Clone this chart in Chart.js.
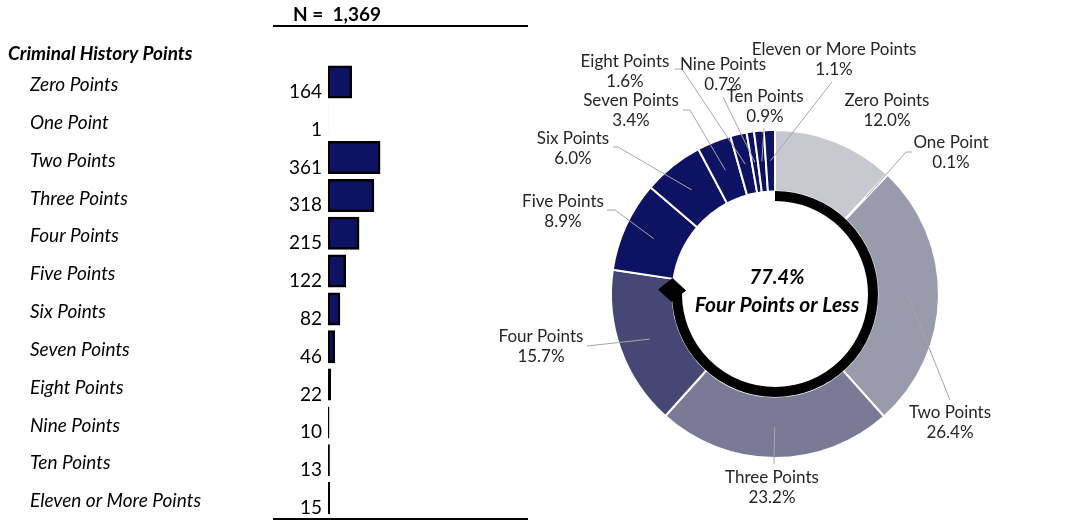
<!DOCTYPE html>
<html>
<head>
<meta charset="utf-8">
<script src="https://cdn.jsdelivr.net/npm/chart.js@4.4.0/dist/chart.umd.min.js"></script>
<style>
  html, body { margin: 0; padding: 0; background: #fff; }
  #wrap { position: relative; width: 1071px; height: 520px; overflow: hidden; }
  canvas { position: absolute; top: 0; }
  #barChart { left: 0; }
  #donutChart { left: 480px; }
</style>
</head>
<body>
<div id="wrap">
  <canvas id="barChart" width="540" height="520"></canvas>
  <canvas id="donutChart" width="591" height="520"></canvas>
</div>
<script>
// data
const categories = [
  'Zero Points', 'One Point', 'Two Points', 'Three Points', 'Four Points', 'Five Points',
  'Six Points', 'Seven Points', 'Eight Points', 'Nine Points', 'Ten Points', 'Eleven or More Points'
];
const counts = [164, 1, 361, 318, 215, 122, 82, 46, 22, 10, 13, 15];
const totalN = 1369;
const headerTitle = 'Criminal History Points';
const centerTitle = 'Four Points or Less';
const groupedCount = 5; // zero .. four points

// styles
const barColor = '#0d1263';
const sliceColors = [
  '#c8c8d1', '#9a9aad', '#9a9aad', '#7a7a97', '#474776', '#0d1263',
  '#0d1263', '#0d1263', '#0d1263', '#0d1263', '#0d1263', '#0d1263'
];

// label placement around the doughnut, relative to its centre
// d = text offset, lead = leader start (+ optional elbow)
const labelLayout = [
  { d: [112, -193] },
  { d: [176, -151], lead: [[137, -142], [131, -142]] },
  { d: [175, 119], lead: [[175, 106]] },
  { d: [-3, 184], lead: [[-1, 170]] },
  { d: [-234, 43], lead: [[-188, 52]] },
  { d: [-212, -92], lead: [[-168, -84], [-160, -84]] },
  { d: [-202, -155], lead: [[-162, -147], [-157, -147]] },
  { d: [-144, -193], lead: [[-92, -184], [-85, -184]] },
  { d: [-150, -232], lead: [[-100, -225], [-93, -225]] },
  { d: [-52, -229], lead: [[-52, -197]] },
  { d: [-10, -197], lead: [[-11, -166]] },
  { d: [59, -244], lead: [[57, -212]] }
];

Chart.defaults.font.family = 'Lato';
const pct = v => (v / totalN * 100).toFixed(1) + '%';

// counts, header and rules of the left table
const barExtras = {
  id: 'barExtras',
  afterDraw(chart) {
    const { ctx, chartArea } = chart;
    const meta = chart.getDatasetMeta(0);
    ctx.save();
    ctx.fillStyle = '#000';
    ctx.font = '19px Lato';
    ctx.textAlign = 'right';
    ctx.textBaseline = 'alphabetic';
    meta.data.forEach((bar, i) => {
      const { y, height } = bar.getProps(['y', 'height'], true);
      ctx.fillText(counts[i].toLocaleString('en-US'), chartArea.left - 6, y + height / 2);
    });

    ctx.textAlign = 'left';
    ctx.textBaseline = 'middle';
    ctx.font = 'italic bold 19px Lato';
    ctx.fillText(headerTitle, 8, 54);
    ctx.font = 'bold 19px Lato';
    ctx.fillText('N =  ' + totalN.toLocaleString('en-US'), 293, 15);

    ctx.strokeStyle = '#000';
    ctx.lineWidth = 2;
    ctx.beginPath();
    ctx.moveTo(273, 26); ctx.lineTo(528, 26);
    ctx.moveTo(273, 519); ctx.lineTo(528, 519);
    ctx.stroke();
    ctx.restore();
  }
};

new Chart(document.getElementById('barChart'), {
  type: 'bar',
  data: {
    labels: categories,
    datasets: [{
      data: counts,
      backgroundColor: barColor,
      borderColor: '#000',
      borderWidth: 2.5,
      borderSkipped: false,
      // thin bars stay pure outline, wider ones get a seam-free fill
      inflateAmount: c => (c.raw < 30 ? 0 : 0.5),
      categoryPercentage: 1,
      barPercentage: 0.845
    }]
  },
  options: {
    indexAxis: 'y',
    responsive: false,
    animation: false,
    events: [],
    layout: { padding: { top: 63, bottom: 3, left: 30, right: 15 } },
    plugins: { legend: { display: false }, tooltip: { enabled: false } },
    scales: {
      x: { display: false, min: 0, max: totalN },
      y: {
        grid: { display: false },
        border: { display: false },
        ticks: {
          crossAlign: 'far',
          padding: 0,
          labelOffset: 3,
          color: '#000',
          font: { family: 'Lato', style: 'italic', size: 19 }
        },
        afterFit(scale) {
          scale.width = 298;
          scale.paddingTop = 0;
          scale.paddingBottom = 0;
        }
      }
    }
  },
  plugins: [barExtras]
});

// leader lines, labels, centre text and the arrow arc
const donutExtras = {
  id: 'donutExtras',
  afterDatasetsDraw(chart) {
    const { ctx } = chart;
    const arcs = chart.getDatasetMeta(0).data;
    const cx = arcs[0].x, cy = arcs[0].y;
    ctx.save();

    ctx.strokeStyle = '#a6a6a6';
    ctx.lineWidth = 1;
    labelLayout.forEach((lay, i) => {
      if (!lay.lead) return;
      const a = arcs[i];
      const mid = (a.startAngle + a.endAngle) / 2;
      const r = (a.innerRadius + a.outerRadius) / 2;
      ctx.beginPath();
      ctx.moveTo(cx + lay.lead[0][0], cy + lay.lead[0][1]);
      lay.lead.slice(1).forEach(p => ctx.lineTo(cx + p[0], cy + p[1]));
      ctx.lineTo(cx + Math.cos(mid) * r, cy + Math.sin(mid) * r);
      ctx.stroke();
    });

    ctx.fillStyle = '#262626';
    ctx.font = '17px Lato';
    ctx.textAlign = 'center';
    ctx.textBaseline = 'middle';
    labelLayout.forEach((lay, i) => {
      ctx.fillText(categories[i], cx + lay.d[0], cy + lay.d[1]);
      ctx.fillText(pct(counts[i]), cx + lay.d[0], cy + lay.d[1] + 20);
    });

    // arc around the "four points or less" share
    const arcR = 98;
    const endA = arcs[groupedCount - 1].endAngle - 0.11;
    ctx.strokeStyle = '#000';
    ctx.lineWidth = 10;
    ctx.beginPath();
    ctx.arc(cx, cy, arcR, -Math.PI / 2, endA);
    ctx.stroke();
    ctx.translate(cx + Math.cos(endA) * (arcR + 5), cy + Math.sin(endA) * (arcR + 5));
    ctx.rotate(endA);
    ctx.fillStyle = '#000';
    ctx.beginPath();
    ctx.moveTo(14, 0); ctx.lineTo(0, 12); ctx.lineTo(-14, 0); ctx.lineTo(0, -12);
    ctx.closePath();
    ctx.fill();
    ctx.setTransform(1, 0, 0, 1, 0, 0);

    const grouped = counts.slice(0, groupedCount).reduce((s, v) => s + v, 0);
    ctx.fillStyle = '#000';
    ctx.font = 'italic bold 20px Lato';
    ctx.fillText(pct(grouped), cx + 2, cy - 16);
    ctx.font = 'italic bold 21px Lato';
    ctx.fillText(centerTitle, cx + 2, cy + 11);
    ctx.restore();
  }
};

new Chart(document.getElementById('donutChart'), {
  type: 'doughnut',
  data: {
    labels: categories,
    datasets: [{
      data: counts,
      backgroundColor: sliceColors,
      borderColor: '#fff',
      borderWidth: 2
    }]
  },
  options: {
    responsive: false,
    animation: false,
    events: [],
    cutout: '62.5%',
    layout: { padding: { left: 130, right: 131, top: 129, bottom: 61 } },
    plugins: { legend: { display: false }, tooltip: { enabled: false } }
  },
  plugins: [donutExtras]
});
</script>
</body>
</html>
